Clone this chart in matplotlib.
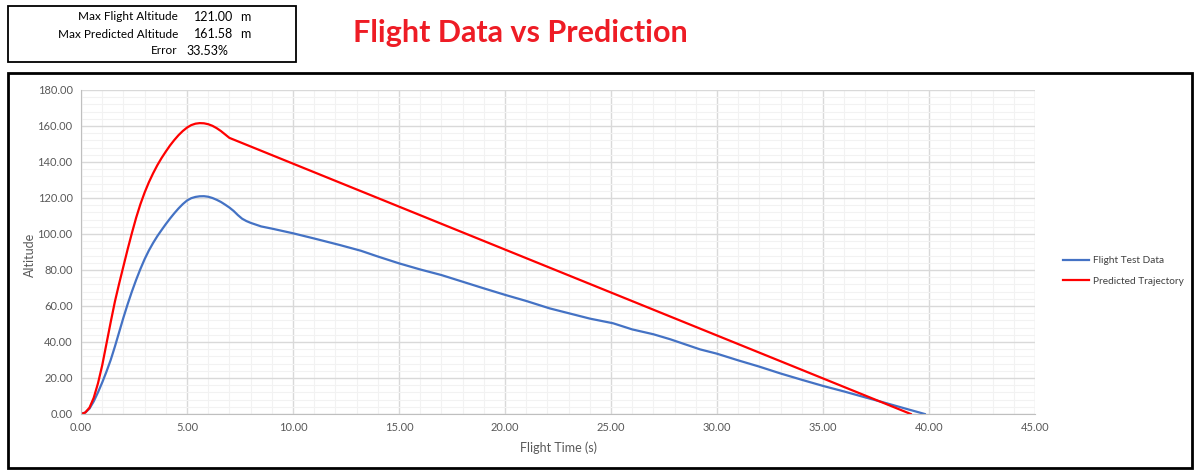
import numpy as np
from matplotlib import pyplot as plt
from matplotlib.patches import Rectangle
from matplotlib.ticker import MultipleLocator, FormatStrFormatter

plt.rcParams['font.family'] = ['Lato', 'DejaVu Sans']

# flight test data (blue)
flight_t = [0, 0.2, 0.4, 0.6, 0.8, 1.0, 1.2, 1.4, 1.6, 1.8, 2.0, 2.2, 2.4, 2.6, 2.8,
            3.0, 3.2, 3.4, 3.6, 3.8, 4.0, 4.2, 4.4, 4.6, 4.8, 5.0, 5.2, 5.4, 5.6, 5.8,
            6.0, 6.2, 6.4, 6.6, 6.8, 7.0, 7.2, 7.4, 7.6, 7.8, 8.0, 8.5, 9.0, 10.0,
            11.0, 12.2, 13.2, 14.0, 15.0, 16.0, 17.0, 18.0, 19.0, 20.0, 21.0, 22.1,
            23.0, 24.0, 25.1, 26.0, 27.0, 27.8, 29.2, 30.0, 31.0, 32.0, 33.0, 34.0,
            35.0, 36.0, 37.0, 37.9, 38.8, 39.8]
flight_alt = [0, 0.8, 3, 7, 12, 17.5, 23.5, 30, 37.5, 45.5, 53.5, 61, 68, 74.5, 80.5,
              86, 90.8, 95, 98.8, 102.2, 105.5, 108.6, 111.5, 114.2, 116.6, 118.6,
              119.9, 120.6, 120.95, 121.0, 120.7, 120.0, 119.0, 117.8, 116.3, 114.7,
              112.8, 110.5, 108.5, 107.2, 106.2, 104.2, 103, 100.4, 97.5, 93.9, 90.7,
              87.5, 83.7, 80.3, 77.2, 73.5, 69.8, 66.2, 62.8, 58.7, 56, 53, 50.4, 47,
              44.3, 41.5, 35.9, 33.5, 29.8, 26.3, 22.5, 19, 15.6, 12.5, 9.2, 6.3, 3.3, 0]

# predicted trajectory (red)
pred_t = [0, 0.2, 0.4, 0.6, 0.8, 1.0, 1.2, 1.4, 1.6, 1.8, 2.0, 2.2, 2.4, 2.6, 2.8,
          3.0, 3.2, 3.4, 3.6, 3.8, 4.0, 4.2, 4.4, 4.6, 4.8, 5.0, 5.2, 5.4, 5.6, 5.8,
          6.0, 6.2, 6.4, 6.6, 6.8, 7.0, 39.14]
pred_alt = [0, 0.8, 3.5, 9, 17, 27, 39, 51, 62.5, 72.5, 82, 91.5, 100.5, 109, 116.5,
            123, 128.7, 133.7, 138.2, 142.2, 145.8, 149.2, 152.2, 154.9, 157.2, 159.1,
            160.5, 161.3, 161.6, 161.5, 161.0, 160.1, 158.8, 157.2, 155.3, 153.4, 0]

labels = ['Max Flight Altitude', 'Max Predicted Altitude', 'Error']
values = ['121.00', '161.58', '33.53%']
units = ['m', 'm', '']

W, H = 1200, 475
fig = plt.figure(figsize=(12, 4.75), dpi=100)

def fx(px):
    return px / W

def fy(py):
    return 1 - py / H

# outer chart border and info box
fig.patches.append(Rectangle((fx(8), fy(468)), fx(1184), (468 - 73) / H,
                             transform=fig.transFigure, fill=False, lw=2, ec='black'))
fig.patches.append(Rectangle((fx(8), fy(62)), fx(288), (62 - 6) / H,
                             transform=fig.transFigure, fill=False, lw=1.3, ec='black'))

for i in range(3):
    yy = fy(17 + i * 17)
    fig.text(fx(178), yy, labels[i], ha='right', va='center', fontsize=8.5, color='black')
    if units[i]:
        fig.text(fx(233), yy, values[i], ha='right', va='center', fontsize=9)
        fig.text(fx(240), yy, units[i], ha='left', va='center', fontsize=9)
    else:
        fig.text(fx(186), yy, values[i], ha='left', va='center', fontsize=9)

fig.text(fx(520), fy(33), 'Flight Data vs Prediction', ha='center', va='center',
         fontsize=22, fontweight='bold', color='#ee1c25')

ax = fig.add_axes([fx(81), fy(414), (1035 - 81) / W, (414 - 90) / H])
ax.plot(flight_t, flight_alt, color='#4472c4', lw=1.6, label='Flight Test Data')
ax.plot(pred_t, pred_alt, color='#ff0000', lw=1.6, label='Predicted Trajectory')

ax.set_xlim(0, 45)
ax.set_ylim(0, 180)
ax.xaxis.set_major_locator(MultipleLocator(5))
ax.xaxis.set_minor_locator(MultipleLocator(1))
ax.yaxis.set_major_locator(MultipleLocator(20))
ax.yaxis.set_minor_locator(MultipleLocator(4))
ax.xaxis.set_major_formatter(FormatStrFormatter('%.2f'))
ax.yaxis.set_major_formatter(FormatStrFormatter('%.2f'))
ax.grid(which='major', color='#d9d9d9', lw=1)
ax.grid(which='minor', color='#f2f2f2', lw=0.8)
ax.set_axisbelow(True)
for s in ['top', 'right']:
    ax.spines[s].set_visible(False)
for s in ['left', 'bottom']:
    ax.spines[s].set_color('#bfbfbf')
ax.tick_params(which='both', length=0, labelsize=8, labelcolor='#595959', pad=6)
ax.set_xlabel('Flight Time (s)', fontsize=9, color='#595959', labelpad=6)
fig.text(fx(30), fy(255), 'Altitude', rotation=90, ha='center', va='center',
         fontsize=9, color='#595959')

fig.legend(loc='center left', bbox_to_anchor=(fx(1058), fy(271)), frameon=False,
           fontsize=7.3, handlelength=2.6, labelspacing=1.1, handletextpad=0.4,
           labelcolor='#404040', borderpad=0)

fig.savefig('out.png')
